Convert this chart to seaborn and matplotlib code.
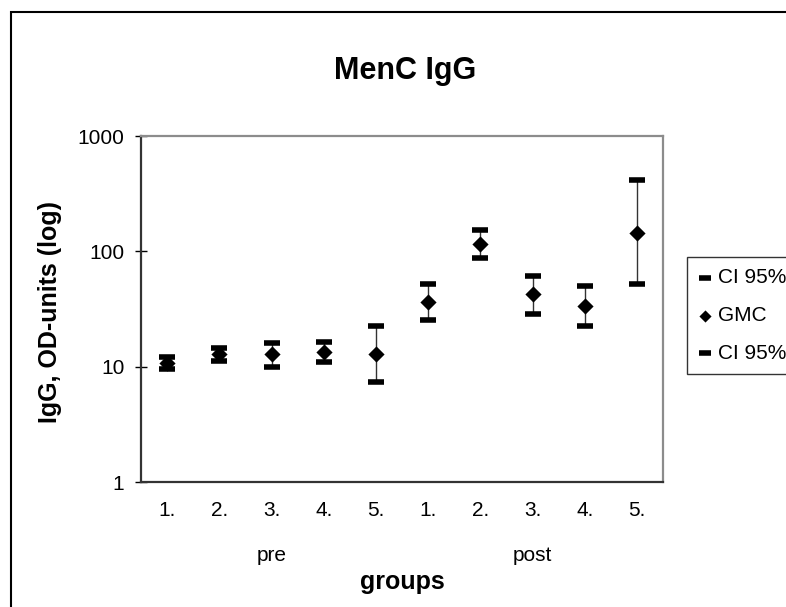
import numpy as np
import pandas as pd
import matplotlib.pyplot as plt
import matplotlib.patches as mpatches
import matplotlib.ticker as mticker
import seaborn as sns

# -------------------------------
# Data
# -------------------------------

groups = ["1.", "2.", "3.", "4.", "5.", "1.", "2.", "3.", "4.", "5."]
phases = ["pre", "post"]
gmc = [10.7, 12.8, 12.8, 13.5, 12.8, 36.3, 115, 42.8, 33.3, 145]
ci_upper = [12.1, 14.6, 15.9, 16.4, 22.6, 52.3, 152, 60.9, 49.9, 413]
ci_lower = [9.5, 11.2, 10.0, 10.9, 7.35, 25.5, 87.8, 28.7, 22.6, 51.9]
y_ticks = [1, 10, 100, 1000]

df = pd.DataFrame({
    "pos": np.arange(len(groups)),
    "gmc": gmc,
    "upper": ci_upper,
    "lower": ci_lower,
})

# -------------------------------
# Style
# -------------------------------

sns.set_style("white")
plt.rcParams["font.family"] = ["Liberation Sans", "DejaVu Sans"]
plt.rcParams["text.color"] = "black"
plt.rcParams["xtick.color"] = "black"
plt.rcParams["ytick.color"] = "black"
plt.rcParams["axes.labelcolor"] = "black"

W, H = 786, 607
fig = plt.figure(figsize=(W / 100, H / 100), dpi=100)
ax = fig.add_axes([141 / W, 1 - 482 / H, (663 - 141) / W, (482 - 136) / H])

# -------------------------------
# Plot
# -------------------------------

ax.vlines(df["pos"], df["lower"], df["upper"], color="#333333", lw=1, zorder=1)

sns.scatterplot(data=df, x="pos", y="upper", marker="_", s=125, linewidth=4,
                color="black", label="CI 95%", ax=ax, zorder=3)
sns.scatterplot(data=df, x="pos", y="gmc", marker="D", s=68, linewidth=0,
                color="black", label="GMC", ax=ax, zorder=4)
sns.scatterplot(data=df, x="pos", y="lower", marker="_", s=125, linewidth=4,
                color="black", label="CI 95%", ax=ax, zorder=3)

ax.set_yscale("log")
ax.set_ylim(1, 1000)
ax.set_xlim(-0.5, len(groups) - 0.5)
ax.yaxis.set_major_locator(mticker.FixedLocator(y_ticks))
ax.yaxis.set_minor_locator(mticker.NullLocator())
ax.set_yticklabels([str(t) for t in y_ticks])
ax.set_xticks(df["pos"])
ax.set_xticklabels(groups)
ax.set_xlabel("")
ax.set_ylabel("")

ax.tick_params(axis="y", direction="inout", length=8, width=1, color="black",
               labelsize=15, pad=8, left=True)
ax.tick_params(axis="x", length=0, labelsize=15, pad=14)

for side in ["left", "bottom"]:
    ax.spines[side].set_color("#333333")
    ax.spines[side].set_linewidth(1.6)
for side in ["top", "right"]:
    ax.spines[side].set_color("#8c8c8c")
    ax.spines[side].set_linewidth(1.6)

# phase labels under the group numbers
trans = ax.get_xaxis_transform()
for i, name in enumerate(phases):
    ax.text(i * 5 + 2, -(561 - 482) / (482 - 136), name, transform=trans,
            ha="center", va="baseline", fontsize=15)

ax.text(0.5, -(589 - 482) / (482 - 136), "groups", transform=ax.transAxes,
        ha="center", va="baseline", fontsize=18, fontweight="bold")

fig.text(50 / W, 1 - 312 / H, "IgG, OD-units (log)", rotation=90,
         ha="center", va="center", fontsize=18, fontweight="bold")
fig.text(405 / W, 1 - 79 / H, "MenC IgG", ha="center", va="baseline",
         fontsize=22, fontweight="bold")

leg = ax.legend(loc="upper left", bbox_to_anchor=(687 / W, 1 - 257 / H),
                bbox_transform=fig.transFigure, borderaxespad=0, frameon=True,
                fancybox=False, fontsize=15, markerscale=0.75, handlelength=0.6,
                handletextpad=0.35, labelspacing=0.9, borderpad=0.55)
leg.get_frame().set_edgecolor("black")
leg.get_frame().set_linewidth(1)

# outer chart border (cropped on the right and bottom)
fig.patches.append(mpatches.Rectangle((11 / W, -0.05), 1.0, 1 - 12 / H + 0.05,
                                      transform=fig.transFigure, fill=False,
                                      ec="black", lw=1.5))

fig.savefig("out.png", dpi=100)
plt.close(fig)
